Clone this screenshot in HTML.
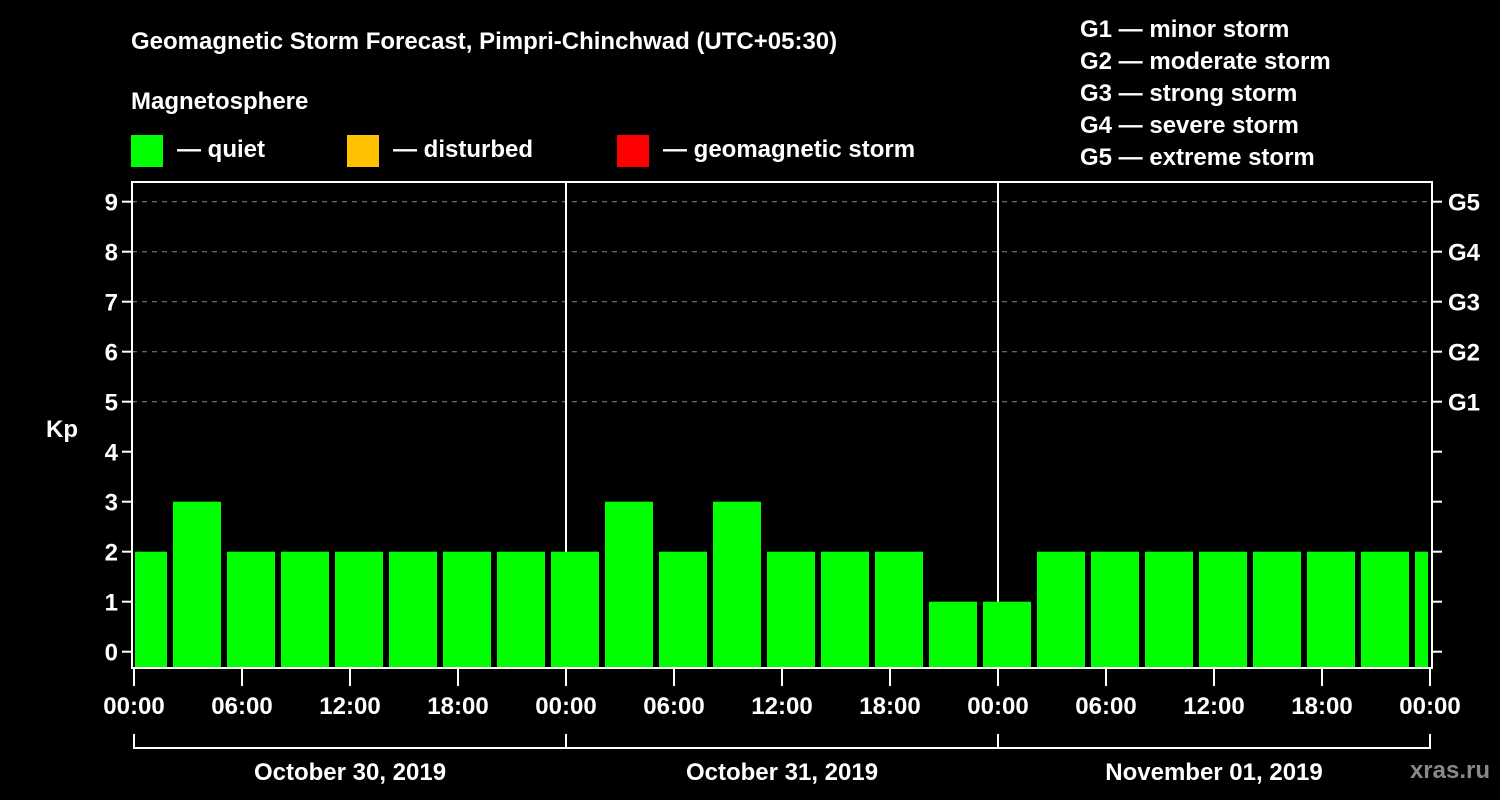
<!DOCTYPE html>
<html><head><meta charset="utf-8"><style>
html,body{margin:0;padding:0;background:#000;}
svg{display:block;font-family:"Liberation Sans",Arial,sans-serif;font-weight:bold;}
</style></head><body>
<svg id="chart" width="1500" height="800" viewBox="0 0 1500 800">
<rect width="1500" height="800" fill="#000"/>
<text x="131" y="49" fill="#fff" font-size="24">Geomagnetic Storm Forecast, Pimpri-Chinchwad (UTC+05:30)</text>
<text x="131" y="109" fill="#fff" font-size="24">Magnetosphere</text>
<g><rect x="131" y="135" width="32" height="32" fill="#00ff00"/><text x="177" y="157" fill="#fff" font-size="24">— quiet</text></g>
<g><rect x="347" y="135" width="32" height="32" fill="#ffc000"/><text x="393" y="157" fill="#fff" font-size="24">— disturbed</text></g>
<g><rect x="617" y="135" width="32" height="32" fill="#ff0000"/><text x="663" y="157" fill="#fff" font-size="24">— geomagnetic storm</text></g>
<g fill="#fff" font-size="24">
<text x="1080" y="37">G1 — minor storm</text>
<text x="1080" y="69">G2 — moderate storm</text>
<text x="1080" y="101">G3 — strong storm</text>
<text x="1080" y="133">G4 — severe storm</text>
<text x="1080" y="165">G5 — extreme storm</text>
</g>
<text x="62" y="437" fill="#fff" font-size="24" text-anchor="middle">Kp</text>
<text x="1490" y="778" fill="#888" font-size="24" text-anchor="end">xras.ru</text>
<g id="grid"></g><g id="bars"></g><g id="axes"></g>
</svg>
<script>
const kpValues = [2,3,2,2,2,2,2,2, 2,3,2,3,2,2,2,1, 1,2,2,2,2,2,2,2,2];
const yTicks = [0,1,2,3,4,5,6,7,8,9];
const gLabels = ["G1","G2","G3","G4","G5"];
const gLevels = [5,6,7,8,9];
const xTickLabels = ["00:00","06:00","12:00","18:00","00:00","06:00","12:00","18:00","00:00","06:00","12:00","18:00","00:00"];
const dayLabels = ["October 30, 2019","October 31, 2019","November 01, 2019"];
const binStartHours = -0.8333;
const binHours = 3;

const L=132,R=1432,T=182,B=668;
const x = h => 134 + h*18;
const y = v => 651.7 - v*50;
const NS="http://www.w3.org/2000/svg";
function mk(tag, attrs, parent, txt){const e=document.createElementNS(NS,tag);for(const k in attrs)e.setAttribute(k,attrs[k]);if(txt!==undefined)e.textContent=txt;parent.appendChild(e);return e;}
const grid=document.getElementById('grid'),bars=document.getElementById('bars'),axes=document.getElementById('axes');

gLevels.forEach((v,i)=>{
  const l=mk('line',{x1:L,x2:R,y1:y(v),y2:y(v),stroke:'#888','stroke-dasharray':'5,5','stroke-width':1},grid);
  
  
});
[1,2].forEach(d=>{
  const l=mk('line',{x1:x(24*d),x2:x(24*d),y1:T,y2:B,stroke:'#fff','stroke-width':2},grid);
  
  
});
kpValues.forEach((v,i)=>{
  let x0=x(binStartHours+binHours*i), x1=x0+48;
  x0=Math.max(x0,L+3); x1=Math.min(x1,R-4);
  const c = v>=5?'#ff0000':(v>=4?'#ffc000':'#00ff00');
  const r=mk('rect',{x:x0,y:y(v),width:x1-x0,height:B-y(v),fill:c},bars);
  
  
});
const f=mk('rect',{x:L,y:T,width:R-L,height:B-T,fill:'none',stroke:'#fff','stroke-width':2},axes);


yTicks.forEach(v=>{
  mk('line',{x1:L-10,x2:L,y1:y(v),y2:y(v),stroke:'#fff','stroke-width':2},axes);
  mk('line',{x1:R,x2:R+10,y1:y(v),y2:y(v),stroke:'#fff','stroke-width':2},axes);
  const t=mk('text',{x:L-14,y:y(v)+9,fill:'#fff','font-size':24,'text-anchor':'end'},axes,String(v));
  
  
});
gLabels.forEach((g,i)=>{
  const t=mk('text',{x:R+16,y:y(gLevels[i])+9,fill:'#fff','font-size':24},axes,g);
  
  
});
xTickLabels.forEach((lab,i)=>{
  const xx=x(i*6);
  mk('line',{x1:xx,x2:xx,y1:B,y2:B+18,stroke:'#fff','stroke-width':2},axes);
  const t=mk('text',{x:xx,y:714,fill:'#fff','font-size':24,'text-anchor':'middle'},axes,lab);
  
  
});
mk('line',{x1:x(0),x2:x(72),y1:748,y2:748,stroke:'#fff','stroke-width':2},axes);
[0,1,2,3].forEach(d=>mk('line',{x1:x(24*d),x2:x(24*d),y1:734,y2:749,stroke:'#fff','stroke-width':2},axes));
dayLabels.forEach((lab,i)=>{
  const t=mk('text',{x:x(24*i+12),y:780,fill:'#fff','font-size':24,'text-anchor':'middle'},axes,lab);
  
  
});
</script>
</body></html>
